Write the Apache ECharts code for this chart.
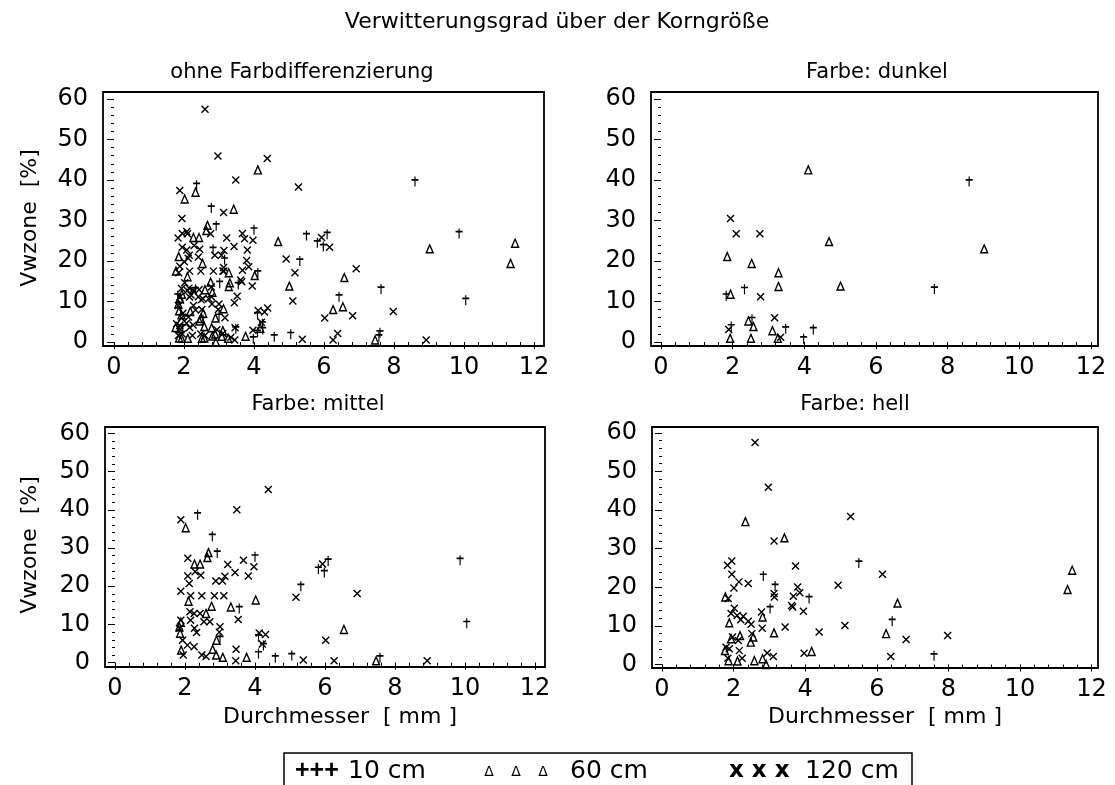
<!DOCTYPE html>
<html>
<head>
<meta charset="utf-8">
<script src="https://cdn.jsdelivr.net/npm/echarts@6/dist/echarts.min.js"></script>
<style>
  html, body { margin: 0; padding: 0; background: #fff; }
  #chart { width: 1115px; height: 785px; }
</style>
</head>
<body>
<div id="chart"></div>
<script>
// Durchmesser [mm], Vwzone [%] per colour class and sampling depth
const dunkel10 = [[2.33,13.0],[1.82,11.4],[2.54,5.6],[1.96,3.8],[3.48,3.3],[3.98,0.8],[4.25,3.1],[8.60,39.6],[7.63,13.1]];
const dunkel60 = [[4.11,42.5],[4.69,24.8],[1.85,21.1],[2.53,19.4],[3.28,17.1],[3.28,13.7],[5.01,13.8],[1.94,11.8],[2.44,5.2],[2.58,3.8],[1.93,0.9],[2.51,0.9],[3.11,2.8],[3.26,0.9],[9.02,23.0]];
const dunkel120 = [[1.94,30.5],[2.10,26.7],[2.76,26.7],[2.78,11.2],[3.17,6.0],[1.89,3.1],[3.34,1.2]];

const mittel10 = [[2.36,38.7],[2.78,33.1],[2.92,28.7],[4.00,27.7],[3.55,14.2],[3.00,6.4],[4.10,2.4],[4.58,1.3],[4.10,6.8],[4.24,4.5],[5.05,1.9],[7.57,1.3],[5.31,20.0],[5.81,24.5],[6.09,26.6],[5.98,23.6],[9.86,26.8],[10.05,10.3]];
const mittel60 = [[2.02,35.3],[2.67,28.8],[2.64,27.5],[2.27,25.8],[2.43,25.8],[2.10,16.1],[2.76,14.8],[3.31,14.6],[4.02,16.4],[2.60,12.9],[1.88,10.6],[1.84,9.4],[2.90,5.9],[1.86,7.7],[1.89,3.3],[2.79,3.5],[2.89,2.0],[3.08,1.4],[3.76,1.4],[6.54,8.7],[7.46,0.5]];
const mittel120 = [[4.38,45.3],[3.48,40.0],[1.88,37.4],[2.08,27.3],[3.22,25.7],[3.67,26.8],[3.97,25.1],[3.43,23.6],[3.81,22.7],[2.29,23.8],[2.08,22.7],[2.45,22.9],[2.12,20.7],[2.88,21.4],[3.07,21.4],[3.14,22.6],[1.88,18.7],[2.16,17.5],[2.48,17.5],[2.84,17.5],[3.11,17.5],[3.52,11.3],[2.14,13.3],[2.26,12.9],[2.43,12.9],[1.88,11.1],[2.16,11.1],[2.54,10.7],[2.71,10.7],[1.84,9.0],[2.27,9.0],[2.33,7.9],[3.00,9.4],[2.98,8.0],[1.93,5.9],[2.07,4.6],[2.26,4.2],[1.95,2.0],[2.48,2.0],[2.60,1.6],[3.46,3.5],[3.45,0.5],[4.12,7.8],[4.30,7.4],[4.21,4.9],[5.38,0.7],[6.26,0.5],[8.92,0.5],[6.02,5.9],[6.92,18.1],[5.17,17.1],[5.93,25.8]];

const hell10 = [[5.50,26.3],[2.83,22.9],[3.16,20.3],[4.11,17.1],[3.02,14.5],[6.43,11.2],[7.60,2.3]];
const hell60 = [[2.33,37.0],[3.42,32.8],[1.77,17.5],[2.81,12.3],[1.88,10.8],[3.13,8.2],[1.93,6.7],[2.18,7.5],[2.55,7.1],[2.48,5.8],[1.76,3.6],[1.86,1.0],[2.11,0.9],[2.58,1.0],[2.81,1.5],[2.91,0.0],[4.18,3.4],[6.58,15.9],[6.26,8.0],[11.46,24.4],[11.33,19.4]];
const hell120 = [[2.60,57.5],[2.97,45.9],[5.27,38.3],[3.13,32.0],[1.83,25.7],[1.95,26.8],[3.73,25.5],[1.95,23.4],[2.15,21.4],[2.41,21.0],[2.01,19.8],[4.92,20.5],[3.79,20.1],[3.67,17.7],[3.85,18.6],[1.85,17.1],[3.13,18.4],[3.14,17.5],[3.62,15.3],[3.65,14.9],[3.95,13.8],[2.02,14.6],[1.93,13.2],[2.10,12.7],[2.27,12.5],[2.20,11.6],[2.78,13.6],[2.41,11.2],[2.49,10.4],[4.39,8.4],[5.11,10.1],[3.44,9.7],[2.80,9.4],[1.97,7.1],[2.13,6.2],[2.51,8.0],[1.79,4.5],[1.88,4.1],[2.16,3.6],[1.84,1.6],[2.24,1.6],[2.94,3.0],[3.11,2.1],[3.97,2.9],[6.16,23.4],[6.82,6.5],[7.98,7.5],[6.39,2.1]];

const xTickValues = [0, 2, 4, 6, 8, 10, 12];
const yTickValues = [0, 10, 20, 30, 40, 50, 60];

const mainTitle = 'Verwitterungsgrad über der Korngröße';
const panelTitles = ['ohne Farbdifferenzierung', 'Farbe: dunkel', 'Farbe: mittel', 'Farbe: hell'];
const yName = 'Vwzone  [%]';
const xName = 'Durchmesser  [ mm ]';
const legendNames = ['10 cm', '60 cm', '120 cm'];

// minor tick positions: every 0.4 mm and every 2 %
const xMinorValues = [];
for (let i = 0; i <= 30; i++) xMinorValues.push(+(i * 0.4).toFixed(1));
const yMinorValues = [];
for (let i = 0; i <= 30; i++) yMinorValues.push(i * 2);

const FONT = 'DejaVu Sans';

const panels = [
  { grid: { left: 103, top: 92, width: 441, height: 254 }, x: [-0.314, 12.286], y: [-0.99, 61.73],
    sets: [dunkel10.concat(mittel10, hell10), dunkel60.concat(mittel60, hell60), dunkel120.concat(mittel120, hell120)],
    title: [302, 73] },
  { grid: { left: 651, top: 92, width: 447, height: 254 }, x: [-0.279, 12.196], y: [-0.99, 61.73],
    sets: [dunkel10, dunkel60, dunkel120], title: [877, 73] },
  { grid: { left: 105, top: 427, width: 440, height: 240 }, x: [-0.286, 12.286], y: [-1.12, 61.65],
    sets: [mittel10, mittel60, mittel120], title: [318, 405] },
  { grid: { left: 652, top: 427, width: 446, height: 241 }, x: [-0.279, 12.18], y: [-0.9, 61.5],
    sets: [hell10, hell60, hell120], title: [855, 405] }
];

// + (dagger-like cross), open triangle, x
const symbols = [
  { symbol: 'path://M4,0L4,11M0,3.5L8,3.5', size: [7, 10] },
  { symbol: 'path://M4,0L8,9L0,9Z', size: [7, 8] },
  { symbol: 'path://M0,0L8,8M8,0L0,8', size: [7, 7] }
];

const grids = [], xAxes = [], yAxes = [], series = [];
panels.forEach((p, i) => {
  grids.push(Object.assign({ show: true, borderColor: '#000', borderWidth: 1.8, backgroundColor: 'transparent' }, p.grid));
  xAxes.push({
    gridIndex: i, type: 'value', min: p.x[0], max: p.x[1], position: 'bottom',
    axisLine: { show: false }, splitLine: { show: false },
    axisTick: { show: true, customValues: xTickValues, length: 7, lineStyle: { color: '#000', width: 1 } },
    axisLabel: { customValues: xTickValues, fontFamily: FONT, fontSize: 24, color: '#000', margin: 10 }
  });
  xAxes.push({
    gridIndex: i, type: 'value', min: p.x[0], max: p.x[1], position: 'bottom',
    axisLine: { show: false }, splitLine: { show: false }, axisLabel: { show: false },
    axisTick: { show: true, customValues: xMinorValues, length: 4, lineStyle: { color: '#000', width: 1 } }
  });
  yAxes.push({
    gridIndex: i, type: 'value', min: p.y[0], max: p.y[1], position: 'left',
    axisLine: { show: false }, splitLine: { show: false },
    axisTick: { show: true, customValues: yTickValues, length: 7, lineStyle: { color: '#000', width: 1 } },
    axisLabel: { customValues: yTickValues, fontFamily: FONT, fontSize: 24, color: '#000', margin: 15 }
  });
  yAxes.push({
    gridIndex: i, type: 'value', min: p.y[0], max: p.y[1], position: 'left',
    axisLine: { show: false }, splitLine: { show: false }, axisLabel: { show: false },
    axisTick: { show: true, customValues: yMinorValues, length: 3, lineStyle: { color: '#000', width: 1 } }
  });
  p.sets.forEach((d, k) => {
    series.push({
      type: 'scatter', name: legendNames[k], xAxisIndex: 2 * i, yAxisIndex: 2 * i, data: d,
      symbol: symbols[k].symbol, symbolSize: symbols[k].size,
      itemStyle: { color: 'transparent', borderColor: '#000', borderWidth: 1.4, opacity: 1 },
      emphasis: { disabled: true }, silent: true
    });
  });
});

const gfx = [
  { type: 'text', x: 557, y: 22, style: { text: mainTitle, fontFamily: FONT, fontSize: 22, fill: '#000', align: 'center', verticalAlign: 'middle' } }
];
panels.forEach((p, i) => {
  gfx.push({ type: 'text', x: p.title[0], y: p.title[1], style: { text: panelTitles[i], fontFamily: FONT, fontSize: 21, fill: '#000', align: 'center', verticalAlign: 'middle' } });
});
[218, 545].forEach(cy => {
  gfx.push({ type: 'text', x: 30, y: cy, rotation: Math.PI / 2, style: { text: yName, fontFamily: FONT, fontSize: 22, fill: '#000', align: 'center', verticalAlign: 'middle' } });
});
[340, 885].forEach(cx => {
  gfx.push({ type: 'text', x: cx, y: 717, style: { text: xName, fontFamily: FONT, fontSize: 22, fill: '#000', align: 'center', verticalAlign: 'middle' } });
});

// legend frame with the three depth entries
gfx.push({ type: 'rect', shape: { x: 284, y: 753, width: 628, height: 42 }, style: { fill: 'none', stroke: '#000', lineWidth: 1.5 } });
const legendText = { fontFamily: FONT, fontSize: 25, fill: '#000', verticalAlign: 'middle', align: 'left' };
const legendY = 771;
gfx.push({ type: 'text', x: 295, y: legendY, style: { text: '+++', fontFamily: 'Liberation Sans', fontWeight: 'bold', fontSize: 25, fill: '#000', verticalAlign: 'middle', align: 'left' } });
gfx.push({ type: 'text', x: 348, y: legendY, style: Object.assign({ text: legendNames[0] }, legendText) });
[489, 516, 543].forEach(tx => {
  gfx.push({ type: 'text', x: tx, y: legendY + 1, style: { text: 'Δ', fontFamily: FONT, fontSize: 14, fill: '#000', verticalAlign: 'middle', align: 'center' } });
});
gfx.push({ type: 'text', x: 570, y: legendY, style: Object.assign({ text: legendNames[1] }, legendText) });
gfx.push({ type: 'text', x: 729, y: legendY, style: { text: 'x x x', fontFamily: FONT, fontWeight: 'bold', fontSize: 23, fill: '#000', verticalAlign: 'middle', align: 'left' } });
gfx.push({ type: 'text', x: 805, y: legendY, style: Object.assign({ text: legendNames[2] }, legendText) });

const chart = echarts.init(document.getElementById('chart'), null, { renderer: 'canvas' });
chart.setOption({
  animation: false,
  backgroundColor: '#fff',
  grid: grids,
  xAxis: xAxes,
  yAxis: yAxes,
  series: series,
  graphic: gfx
});
</script>
</body>
</html>
